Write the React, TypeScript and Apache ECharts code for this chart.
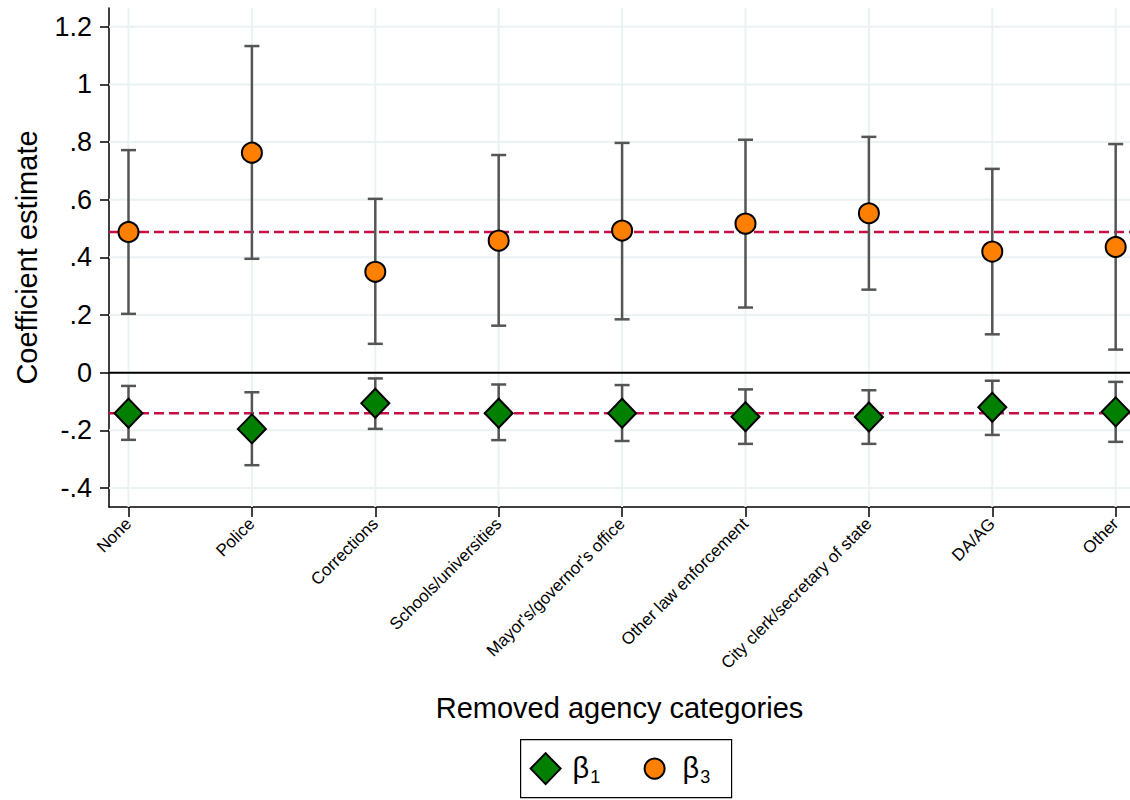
import React, { useEffect, useRef } from "react";
import * as echarts from "echarts";

const categories = [
  "None",
  "Police",
  "Corrections",
  "Schools/universities",
  "Mayor's/governor's office",
  "Other law enforcement",
  "City clerk/secretary of state",
  "DA/AG",
  "Other",
];

// beta_1 estimates and 95% CI
const beta1 = [-0.141, -0.195, -0.106, -0.141, -0.141, -0.153, -0.154, -0.12, -0.136];
const beta1Low = [-0.233, -0.321, -0.195, -0.234, -0.237, -0.247, -0.247, -0.216, -0.24];
const beta1High = [-0.046, -0.068, -0.02, -0.041, -0.043, -0.058, -0.061, -0.028, -0.032];

// beta_3 estimates and 95% CI
const beta3 = [0.488, 0.763, 0.35, 0.458, 0.493, 0.517, 0.553, 0.42, 0.436];
const beta3Low = [0.204, 0.395, 0.1, 0.163, 0.185, 0.226, 0.288, 0.133, 0.08];
const beta3High = [0.772, 1.133, 0.603, 0.755, 0.797, 0.808, 0.818, 0.707, 0.793];

// reference (baseline) lines
const beta1Ref = -0.141;
const beta3Ref = 0.488;

const yTicks = [-0.4, -0.2, 0, 0.2, 0.4, 0.6, 0.8, 1, 1.2];
const xTicks = categories.map((_, i) => i);

const FONT = "'Liberation Sans', Arial, Helvetica, sans-serif";
const ORANGE = "#FF8000";
const GREEN = "#007F00";
const BAR = "#555555";
const RED = "#C80F44";
const GRID = "#EAF2F3";

function fmtY(v: number): string {
  if (Math.abs(v) < 1e-9) return "0";
  const s = String(Math.round(v * 10) / 10);
  return s.replace(/^(-?)0\./, "$1.");
}

function hLines(color: string, width: number, dash: number[] | null, z: number, values: number[]) {
  return {
    type: "custom",
    z,
    silent: true,
    data: values.map((v) => [0, v]),
    encode: { x: 0, y: 1 },
    renderItem: (params: any, api: any) => {
      const cs = params.coordSys;
      const p = api.coord([0, api.value(1)]);
      return {
        type: "line",
        shape: { x1: cs.x, y1: p[1], x2: cs.x + cs.width, y2: p[1] },
        style: { stroke: color, lineWidth: width, lineDash: dash || undefined },
      };
    },
  };
}

function vLines(color: string, width: number, z: number, values: number[]) {
  return {
    type: "custom",
    z,
    silent: true,
    data: values.map((v) => [v, 0]),
    encode: { x: 0, y: 1 },
    renderItem: (params: any, api: any) => {
      const cs = params.coordSys;
      const p = api.coord([api.value(0), 0]);
      return {
        type: "line",
        shape: { x1: p[0], y1: cs.y, x2: p[0], y2: cs.y + cs.height },
        style: { stroke: color, lineWidth: width },
      };
    },
  };
}

function errorBars(low: number[], high: number[], z: number) {
  return {
    type: "custom",
    z,
    silent: true,
    data: low.map((l, i) => [i, l, high[i]]),
    encode: { x: 0, y: [1, 2] },
    renderItem: (_params: any, api: any) => {
      const x = api.value(0);
      const a = api.coord([x, api.value(1)]);
      const b = api.coord([x, api.value(2)]);
      const cap = 7.5;
      const st = { stroke: BAR, lineWidth: 2.5 };
      return {
        type: "group",
        children: [
          { type: "line", shape: { x1: a[0], y1: a[1], x2: b[0], y2: b[1] }, style: st },
          { type: "line", shape: { x1: a[0] - cap, y1: a[1], x2: a[0] + cap, y2: a[1] }, style: st },
          { type: "line", shape: { x1: b[0] - cap, y1: b[1], x2: b[0] + cap, y2: b[1] }, style: st },
        ],
      };
    },
  };
}

const legendRich = {
  b: { fontFamily: FONT, fontSize: 29, color: "#000", verticalAlign: "bottom", padding: [0, 0, 4, 0] },
  s: { fontFamily: FONT, fontSize: 18, color: "#000", verticalAlign: "bottom", padding: [0, 0, 0, 1] },
};

export default function App() {
  const ref = useRef<HTMLDivElement>(null);

  useEffect(() => {
    if (!ref.current) return;
    const chart = echarts.init(ref.current, null, { renderer: "svg" });

    const option: any = {
      animation: false,
      backgroundColor: "#FFFFFF",
      grid: { left: 109, top: 8, width: 1021, height: 499, containLabel: false },
      xAxis: {
        type: "value",
        min: -0.158,
        max: 8.116,
        name: "Removed agency categories",
        nameLocation: "middle",
        nameGap: 186,
        nameTextStyle: { fontFamily: FONT, fontSize: 29, color: "#000" },
        axisLine: { show: true, onZero: false, lineStyle: { color: "#000", width: 1.5 } },
        axisTick: { show: true, customValues: xTicks, length: 10, lineStyle: { color: "#000", width: 1.5 } },
        axisLabel: {
          customValues: xTicks,
          rotate: 45,
          margin: 14,
          fontFamily: FONT,
          fontSize: 17,
          color: "#000",
          formatter: (v: number) => categories[Math.round(v)] ?? "",
        },
        splitLine: { show: false },
      },
      yAxis: {
        type: "value",
        min: -0.466,
        max: 1.265,
        name: "Coefficient estimate",
        nameLocation: "middle",
        nameGap: 68,
        nameTextStyle: { fontFamily: FONT, fontSize: 29, color: "#000" },
        axisLine: { show: true, onZero: false, lineStyle: { color: "#000", width: 1.5 } },
        axisTick: { show: true, customValues: yTicks, length: 9, lineStyle: { color: "#000", width: 1.5 } },
        axisLabel: {
          customValues: yTicks,
          margin: 17,
          fontFamily: FONT,
          fontSize: 27,
          color: "#000",
          formatter: (v: number) => fmtY(v),
        },
        splitLine: { show: false },
      },
      series: [
        hLines(GRID, 2, null, 1, yTicks),
        vLines(GRID, 2, 1, xTicks),
        hLines(RED, 2.5, [10, 5], 2, [beta3Ref, beta1Ref]),
        hLines("#000", 2, null, 2, [0]),
        errorBars(beta3Low, beta3High, 3),
        errorBars(beta1Low, beta1High, 3),
        {
          name: "β1",
          type: "scatter",
          z: 5,
          symbol: "diamond",
          symbolSize: [28, 29],
          itemStyle: { color: GREEN, borderColor: "#000", borderWidth: 2, opacity: 1 },
          data: beta1.map((v, i) => [i, v]),
        },
        {
          name: "β3",
          type: "scatter",
          z: 5,
          symbol: "circle",
          symbolSize: 20,
          itemStyle: { color: ORANGE, borderColor: "#000", borderWidth: 2, opacity: 1 },
          data: beta3.map((v, i) => [i, v]),
        },
      ],
      graphic: [
        {
          type: "group",
          left: 520,
          top: 739,
          children: [
            {
              type: "rect",
              shape: { x: 0, y: 0, width: 211, height: 58 },
              style: { fill: "#fff", stroke: "#000", lineWidth: 1.2 },
            },
            {
              type: "polygon",
              shape: { points: [[25, 13.5], [40, 29], [25, 44.5], [10, 29]] },
              style: { fill: GREEN, stroke: "#000", lineWidth: 2 },
            },
            {
              type: "text",
              x: 52,
              y: 30,
              style: { text: "{b|β}{s|1}", rich: legendRich, verticalAlign: "middle" },
            },
            {
              type: "circle",
              shape: { cx: 134, cy: 29, r: 10 },
              style: { fill: ORANGE, stroke: "#000", lineWidth: 2 },
            },
            {
              type: "text",
              x: 162,
              y: 30,
              style: { text: "{b|β}{s|3}", rich: legendRich, verticalAlign: "middle" },
            },
          ],
        },
      ],
    };

    chart.setOption(option);
    return () => chart.dispose();
  }, []);

  return (
    <div
      ref={ref}
      style={{ position: "absolute", left: 0, top: 0, width: 1130, height: 800, background: "#fff" }}
    />
  );
}
